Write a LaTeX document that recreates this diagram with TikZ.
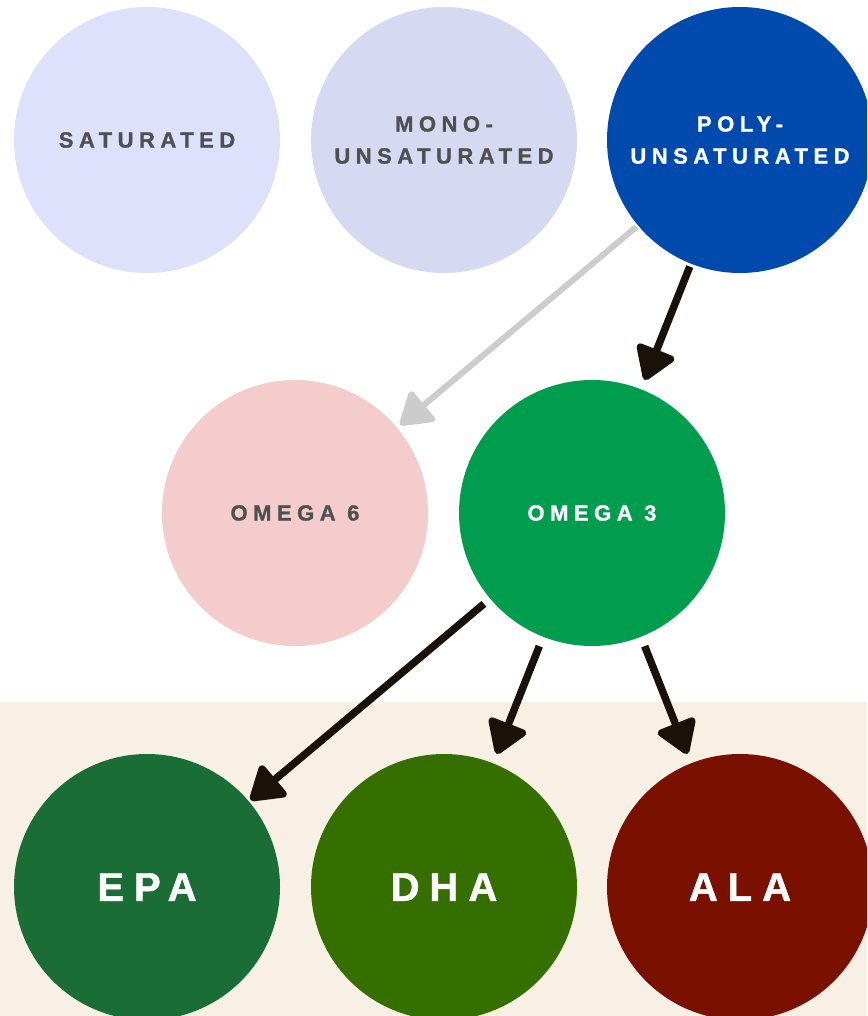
\documentclass[tikz,border=0pt]{standalone}
\usepackage{fontspec}
\setmainfont{Liberation Sans}
\newfontfamily\lblfont[LetterSpace=25, BoldFeatures={FakeBold=1.2}]{Liberation Sans}
\usepackage{xcolor}
\usetikzlibrary{arrows.meta}

\definecolor{satcol}{HTML}{DDE1FC}
\definecolor{monocol}{HTML}{D6D9F2}
\definecolor{polycol}{HTML}{004AAD}
\definecolor{omsixcol}{HTML}{F4CCCC}
\definecolor{omthreecol}{HTML}{009D4F}
\definecolor{epacol}{HTML}{1A6E35}
\definecolor{dhacol}{HTML}{346F00}
\definecolor{alacol}{HTML}{7A1100}
\definecolor{beigecol}{HTML}{F8F0E5}
\definecolor{txtgray}{HTML}{505050}
\definecolor{arrowgray}{HTML}{CCCCCC}
\definecolor{arrowdark}{HTML}{1A1208}

\begin{document}
\begin{tikzpicture}[
    x=1pt, y=-1pt,
    fat/.style={circle, minimum size=266pt, inner sep=0pt, align=center},
    small/.style={font={\lblfont\bfseries\fontsize{22}{32}\selectfont}},
    big/.style={font={\lblfont\bfseries\fontsize{40}{48}\selectfont}, text=white},
    arrow/.style={line width=7.5pt, draw=arrowdark, -{Triangle[length=36pt, width=44pt, round]}},
    grayarrow/.style={line width=6pt, draw=arrowgray, -{Triangle[length=34pt, width=42pt, round]}}
]
\clip (0,0) rectangle (867,1016);
\useasboundingbox (0,0) rectangle (867,1016);

% Background band
\fill[beigecol] (0,702) rectangle (867,1016);

% Nodes
\node (sat) [fat, small, fill=satcol, text=txtgray] at (147,140) {SATURATED};
\node (mono) [fat, small, fill=monocol, text=txtgray] at (444,140) {MONO-\\UNSATURATED};
\node (poly) [fat, small, fill=polycol, text=white] at (740,140) {POLY-\\UNSATURATED};

\node (omsix) [fat, small, fill=omsixcol, text=txtgray] at (295,513) {OMEGA 6};
\node (omthree) [fat, small, fill=omthreecol, text=white] at (592,513) {OMEGA 3};

\node (epa) [fat, big, fill=epacol] at (147,887) {EPA};
\node (dha) [fat, big, fill=dhacol] at (444,887) {DHA};
\node (ala) [fat, big, fill=alacol] at (740,887) {ALA};

% Arrows
\draw [grayarrow, shorten <=2pt, shorten >=4pt] (poly) -- (omsix);
\draw [arrow, shorten <=3pt, shorten >=10pt] (poly) -- (omthree);
\draw [arrow, shorten <=8pt, shorten >=2pt] (omthree) -- (epa);
\draw [arrow, shorten <=10pt, shorten >=10pt] (omthree) -- (dha);
\draw [arrow, shorten <=10pt, shorten >=10pt] (omthree) -- (ala);

\end{tikzpicture}
\end{document}
